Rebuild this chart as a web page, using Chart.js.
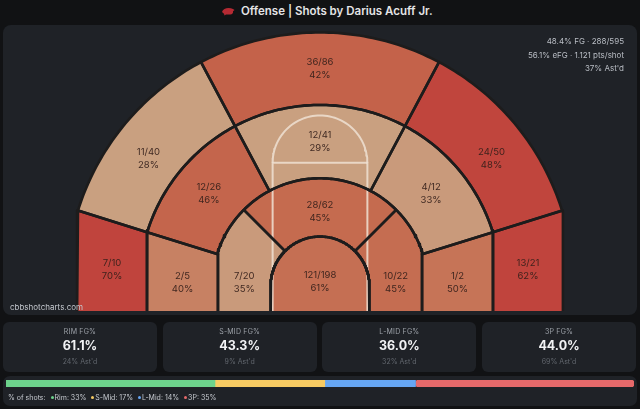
<!DOCTYPE html>
<html><head><meta charset="utf-8">
<script src="https://cdn.jsdelivr.net/npm/chart.js@4.4.1/dist/chart.umd.min.js"></script>
<style>
html,body{margin:0;padding:0;background:#111214;width:640px;height:409px;overflow:hidden;font-family:Inter,"Noto Sans",sans-serif;}
#wrap{position:relative;width:640px;height:409px;}
.panel{position:absolute;background:#1f2227;border-radius:8px;}
#title{position:absolute;left:0;top:3px;width:640px;height:17px;}
#title svg{position:absolute;left:221px;top:4px;}
#title span{position:absolute;left:241px;top:0;font-size:11.5px;font-weight:600;color:#e4e4e6;line-height:17px;white-space:nowrap;}
#courtChart{position:absolute;left:0;top:0;}
#stats{position:absolute;right:13px;top:10px;text-align:right;font-size:8px;line-height:13.5px;color:#b9bdc4;}
#wm{position:absolute;left:7px;top:277px;font-size:8px;line-height:10px;color:#c3c7cd;}
.card{position:absolute;top:322px;height:50px;width:154px;background:#1f2227;border-radius:6px;text-align:center;}
.card .l{position:absolute;left:0;right:0;top:5px;font-size:7px;line-height:10px;color:#9ca1a8;letter-spacing:0.2px;}
.card .v{position:absolute;left:0;right:0;top:16px;font-size:12.5px;line-height:16px;font-weight:700;color:#f2f3f5;}
.card .s{position:absolute;left:0;right:0;top:35px;font-size:7px;line-height:10px;color:#62676e;}
#mix{position:absolute;left:3px;top:4px;}
#legend{position:absolute;left:5px;top:17px;font-size:7px;line-height:10px;color:#c6cad0;white-space:nowrap;}
#legend i{display:inline-block;width:3px;height:3px;border-radius:50%;margin:0 1px 1px 3px;vertical-align:middle;}
</style></head><body>
<div id="wrap">
  <div id="title"><svg width="14" height="9" viewBox="0 0 14 9"><path d="M1 5 C2 1,8 0,12 2 L13.5 3 L12 4.2 C12.5 6,11 8,8.5 7.5 L5 7.6 L3.5 8.5 L3 6.8 Z" fill="#b52a33"/></svg><span id="titleText"></span></div>
  <div class="panel" id="court" style="left:3px;top:25px;width:634px;height:290px">
    <canvas id="courtChart" width="634" height="290"></canvas>
    <div id="stats"></div>
    <div id="wm">cbbshotcharts.com</div>
  </div>
  <div id="cards"></div>
  <div class="panel" id="mixPanel" style="left:3px;top:376px;width:634px;height:30px;border-radius:7px">
    <canvas id="mix" width="628" height="7"></canvas>
    <div id="legend"></div>
  </div>
</div>
<script>
// ---------------- DATA ----------------
const playerName = 'Darius Acuff Jr.';
const zoneNames  = ['Rim','Short mid left','Short mid middle','Short mid right',
                    'Long mid left baseline','Long mid left wing','Long mid top','Long mid right wing','Long mid right baseline',
                    '3P left corner','3P left wing','3P top','3P right wing','3P right corner'];
const zoneGroup  = ['Rim','S-Mid','S-Mid','S-Mid','L-Mid','L-Mid','L-Mid','L-Mid','L-Mid','3P','3P','3P','3P','3P'];
const zoneMakes  = [121, 7, 28, 10, 2, 12, 12, 4, 1, 7, 11, 36, 24, 13];
const zoneAtt    = [198, 20, 62, 22, 5, 26, 41, 12, 2, 10, 40, 86, 50, 21];
const groupNames = ['Rim','S-Mid','L-Mid','3P'];
const groupAstd  = [24, 9, 32, 69];
const overallAstd = 37;

// ---------------- STYLE / LAYOUT ----------------
const groupColors = ['#6dd38c','#f7cb63','#66a6f3','#e5696a'];
const groupBase = {'Rim':0.57,'S-Mid':0.40,'L-Mid':0.39,'3P':0.35};
const stops = [[-0.05,[201,160,128]],[0.0,[199,132,101]],[0.05,[197,106,78]],[0.12,[192,68,61]]];
function zoneColor(m,a,g){
  const base = groupBase[g], k = 5;
  const d = (m + k*base)/(a + k) - base;
  if (d <= stops[0][0]) return 'rgb('+stops[0][1]+')';
  for (let i=1;i<stops.length;i++){
    if (d <= stops[i][0]){
      const t=(d-stops[i-1][0])/(stops[i][0]-stops[i-1][0]);
      const c=stops[i-1][1].map((v,j)=>Math.round(v+(stops[i][1][j]-v)*t));
      return 'rgb('+c+')';
    }
  }
  return 'rgb('+stops[stops.length-1][1]+')';
}
// court geometry in feet, basket at origin
const RINGS = [{R:6.1,X:6.1},{R:13.3,X:12.6},{R:22.35,X:21.36},{R:31.3,X:30.0}];
const YB = -3.8;               // polygon closure (below visible baseline)
const VIEW = {x:39.14, yMin:-3.086, yMax:32.22};
const CA = 17.3, WA = 62;      // corner / wing split angles
const PAINT = 5.85, FT = 15.2;
const LAYOUT = [
  {inn:-1,out:0,a0:-90,a1:270,lab:{x:0,y:0.55}},
  {inn:0,out:1,a0:135,a1:270,lab:{side:-1,y:0.45}},
  {inn:0,out:1,a0:45,a1:135,lab:{r:9.2}},
  {inn:0,out:1,a0:-90,a1:45,lab:{side:1,y:0.45}},
  {inn:1,out:2,a0:180-CA,a1:270,lab:{side:-1,y:0.45}},
  {inn:1,out:2,a0:180-WA,a1:180-CA,lab:{}},
  {inn:1,out:2,a0:WA,a1:180-WA,lab:{}},
  {inn:1,out:2,a0:CA,a1:WA,lab:{}},
  {inn:1,out:2,a0:-90,a1:CA,lab:{side:1,y:0.45}},
  {inn:2,out:3,a0:180-CA,a1:270,lab:{side:-1,y:2.05}},
  {inn:2,out:3,a0:180-WA,a1:180-CA,lab:{shift:3,r:26.4}},
  {inn:2,out:3,a0:WA,a1:180-WA,lab:{}},
  {inn:2,out:3,a0:CA,a1:WA,lab:{shift:-3,r:26.4}},
  {inn:2,out:3,a0:-90,a1:CA,lab:{side:1,y:2.05}},
];
const deg = Math.PI/180;
function alphaOf(k){const {R,X}=RINGS[k];return Math.acos(Math.min(1,X/R))/deg;}
function ringPoint(k,th){
  const {R,X}=RINGS[k], al=alphaOf(k);
  if (th>=al && th<=180-al) return {x:R*Math.cos(th*deg), y:R*Math.sin(th*deg)};
  if (th<al) return {x:X, y:X*Math.tan(th*deg)};
  return {x:-X, y:X*Math.tan((180-th)*deg)};
}
function ringPts(k,a0,a1){
  const X=RINGS[k].X, al=alphaOf(k), bot=Math.atan2(YB,X)/deg;
  const lo=Math.max(Math.min(a0,a1),bot), hi=Math.min(Math.max(a0,a1),180-bot);
  const s=new Set([lo,hi]);
  for(let t=Math.ceil(lo);t<hi;t+=1) s.add(t);
  [al,180-al].forEach(v=>{if(v>lo&&v<hi)s.add(v);});
  const arr=[...s].sort((a,b)=>a-b).map(t=>ringPoint(k,t));
  if(a0>a1) arr.reverse();
  return arr;
}
function zonePolygon(z){
  let pts = ringPts(z.out,z.a0,z.a1);
  if (z.inn>=0) pts = pts.concat(ringPts(z.inn,z.a1,z.a0));
  pts.push({...pts[0]});
  return pts;
}
function labelAnchor(z){
  const L=z.lab;
  if (L.x!==undefined) return {x:L.x,y:L.y};
  if (L.side){const xi=z.inn>=0?RINGS[z.inn].X:0; return {x:L.side*(xi+RINGS[z.out].X)/2,y:L.y};}
  const ang=(z.a0+z.a1)/2+(L.shift||0);
  const r=L.r||((RINGS[z.inn].R+RINGS[z.out].R)/2);
  return {x:r*Math.cos(ang*deg),y:r*Math.sin(ang*deg)};
}

// ---------------- COURT CHART ----------------
const polys = LAYOUT.map(zonePolygon);
const fills = LAYOUT.map((z,i)=>({
  data:polys[i], showLine:true, fill:'shape', backgroundColor:zoneColor(zoneMakes[i],zoneAtt[i],zoneGroup[i]),
  borderColor:'rgba(0,0,0,0)', borderWidth:0, pointRadius:0, order:3, clip:0
}));
const borders = LAYOUT.map((z,i)=>({
  data:polys[i], showLine:true, fill:false, borderColor:'#1d1c1c', borderWidth:2.6,
  pointRadius:0, order:1, clip:0, borderJoinStyle:'round'
}));
const ftArc=[]; for(let t=0;t<=180;t+=3) ftArc.push({x:PAINT*Math.cos(t*deg),y:FT+PAINT*Math.sin(t*deg)});
const courtLines=[
  {data:[{x:-PAINT,y:YB},{x:-PAINT,y:FT},{x:PAINT,y:FT},{x:PAINT,y:YB}],showLine:true,fill:false,borderColor:'rgba(238,224,210,0.85)',borderWidth:2,pointRadius:0,order:2,clip:0},
  {data:ftArc,showLine:true,fill:false,borderColor:'rgba(238,224,210,0.85)',borderWidth:2,pointRadius:0,order:2,clip:0}
];
const labelPlugin={
  id:'zoneLabels',
  afterDatasetsDraw(chart){
    const {ctx,scales:{x,y}}=chart;
    ctx.save();
    ctx.font='9.5px Inter, "Noto Sans", sans-serif';
    ctx.fillStyle='rgba(52,32,26,0.92)';
    ctx.textAlign='center';ctx.textBaseline='middle';
    LAYOUT.forEach((z,i)=>{
      const a=labelAnchor(z), px=x.getPixelForValue(a.x), py=y.getPixelForValue(a.y);
      ctx.fillText(zoneMakes[i]+'/'+zoneAtt[i],px,py-6.3);
      ctx.fillText(Math.round(100*zoneMakes[i]/zoneAtt[i])+'%',px,py+6.3);
    });
    ctx.restore();
  }
};
new Chart(document.getElementById('courtChart'),{
  type:'scatter',
  data:{datasets:[...borders,...courtLines,...fills]},
  options:{
    responsive:false,animation:false,events:[],
    layout:{padding:{left:0,right:0,top:0,bottom:4}},
    plugins:{legend:{display:false},tooltip:{enabled:false}},
    scales:{
      x:{type:'linear',min:-VIEW.x,max:VIEW.x,display:false},
      y:{type:'linear',min:VIEW.yMin,max:VIEW.yMax,display:false}
    }
  },
  plugins:[labelPlugin]
});

// ---------------- TEXT ----------------
document.getElementById('titleText').textContent='Offense | Shots by '+playerName;
const totM=zoneMakes.reduce((a,b)=>a+b,0), totA=zoneAtt.reduce((a,b)=>a+b,0);
let m3=0,pts=0;
zoneMakes.forEach((m,i)=>{const three=zoneGroup[i]==='3P'; if(three)m3+=m; pts+=m*(three?3:2);});
document.getElementById('stats').innerHTML=
  (100*totM/totA).toFixed(1)+'% FG · '+totM+'/'+totA+'<br>'+
  (100*(totM+0.5*m3)/totA).toFixed(1)+'% eFG · '+(pts/totA).toFixed(3)+' pts/shot<br>'+
  overallAstd+"% Ast'd";
const gM=groupNames.map(g=>zoneMakes.filter((_,i)=>zoneGroup[i]===g).reduce((a,b)=>a+b,0));
const gA=groupNames.map(g=>zoneAtt.filter((_,i)=>zoneGroup[i]===g).reduce((a,b)=>a+b,0));
let ch='';
groupNames.forEach((g,i)=>{
  const left=3+i*159.7;
  ch+='<div class="card" style="left:'+left+'px"><div class="l">'+g.toUpperCase()+' FG%</div><div class="v">'+(100*gM[i]/gA[i]).toFixed(1)+'%</div><div class="s">'+groupAstd[i]+"% Ast'd</div></div>";
});
document.getElementById('cards').innerHTML=ch;
let lg='% of shots:';
groupNames.forEach((g,i)=>{lg+=' <i style="background:'+groupColors[i]+'"></i>'+g+': '+Math.round(100*gA[i]/totA)+'%';});
document.getElementById('legend').innerHTML=lg;

// ---------------- SHOT MIX BAR ----------------
new Chart(document.getElementById('mix'),{
  type:'bar',
  data:{labels:[''],datasets:groupNames.map((g,i)=>({label:g,data:[gA[i]],backgroundColor:groupColors[i],borderWidth:0,borderRadius:3.5,borderSkipped:false,barPercentage:1,categoryPercentage:1}))},
  options:{
    indexAxis:'y',responsive:false,animation:false,events:[],
    layout:{padding:0},
    plugins:{legend:{display:false},tooltip:{enabled:false}},
    scales:{x:{stacked:true,min:0,max:totA,display:false},y:{stacked:true,display:false}}
  }
});
</script>
</body></html>
